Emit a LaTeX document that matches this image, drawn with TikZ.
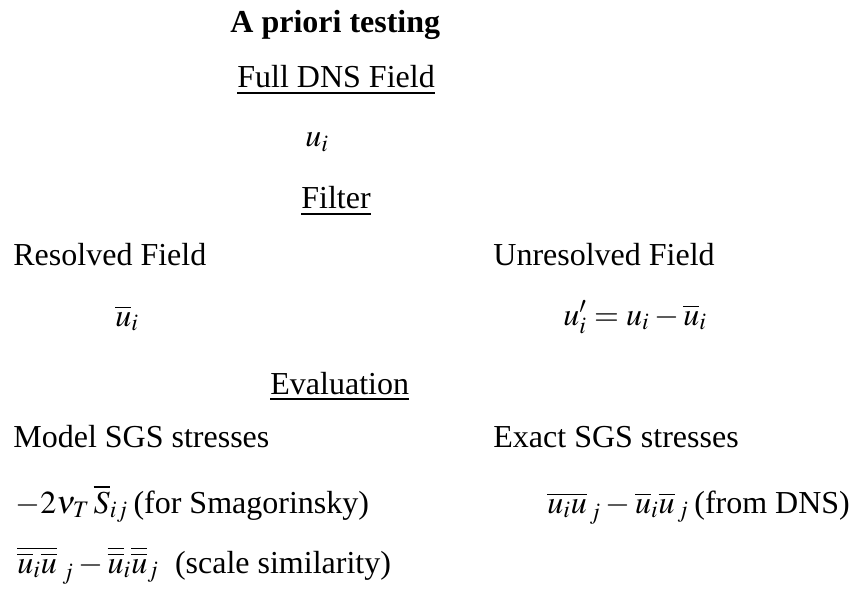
\documentclass[tikz,border=0pt]{standalone}
\usepackage{mathptmx}
\usepackage{fontspec}
\setmainfont{Liberation Serif}

\begin{document}
\begin{tikzpicture}[x=0.5pt,y=0.5pt,yscale=-1,
  txt/.style={anchor=base west,inner sep=0pt,font=\fontsize{16}{19}\selectfont},
  uline/.style={line width=1pt}]
\useasboundingbox (0,0) rectangle (857,599);

% Text Node
\path (230,33) node [txt] (title) {\textbf{A priori testing}};
% Text Node
\path (237,88) node [txt] (dns) {Full DNS Field};
% Text Node
\path (305,147) node [txt] (ui) {$u_i$};
% Text Node
\path (301,208) node [txt] (filter) {Filter};
% Text Node
\path (13,265) node [txt] (resolved) {Resolved Field};
% Text Node
\path (493,265) node [txt] (unresolved) {Unresolved Field};
% Text Node
\path (115,326) node [txt] (ubar) {$\overline{u}_i$};
% Text Node
\path (563,325) node [txt] (uprime) {$u_i' = u_i - \overline{u}_i$};
% Text Node
\path (270,394) node [txt] (eval) {Evaluation};
% Text Node
\path (13,447) node [txt] (model) {Model SGS stresses};
% Text Node
\path (493,447) node [txt] (exact) {Exact SGS stresses};
% Text Node
\path (15,513) node [txt] (smag) {$-2\nu_T\,\overline{S}_{ij}$\,(for Smagorinsky)};
% Text Node
\path (547,513) node [txt] (fromdns) {$\overline{u_i u}_{\,j} - \overline{u}_i\overline{u}_{\,j}$\,(from DNS)};
% Text Node
\path (17,573) node [txt] (simil) {$\overline{\overline{u}_i\overline{u}}_{\;j} - \overline{\overline{u}}_i\overline{\overline{u}}_j$ \ (scale similarity)};

% underlines
\draw [uline] ([yshift=2.6pt]dns.base west) -- ([yshift=2.6pt]dns.base east);
\draw [uline] ([yshift=2.8pt]filter.base west) -- ([yshift=2.8pt]filter.base east);
\draw [uline] ([yshift=2.6pt]eval.base west) -- ([yshift=2.6pt]eval.base east);
\end{tikzpicture}
\end{document}
